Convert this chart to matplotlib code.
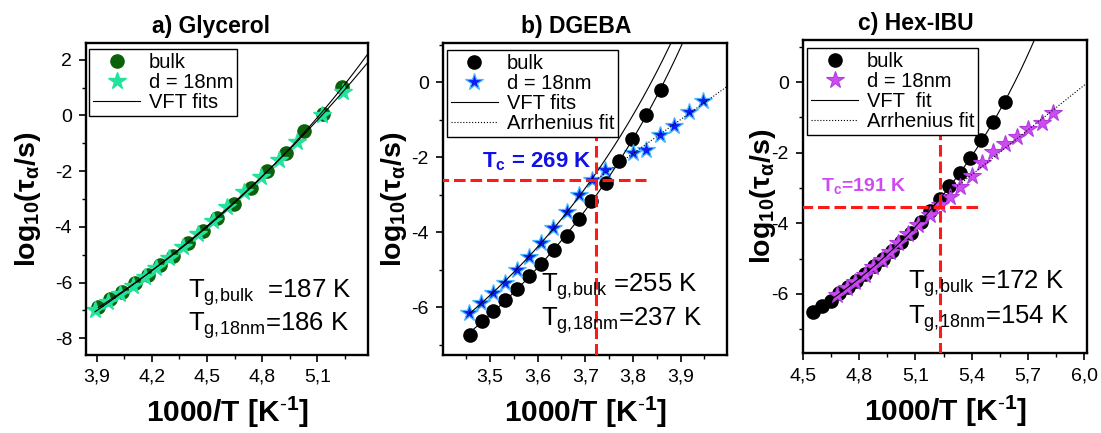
import numpy as np
import matplotlib
matplotlib.use('Agg')
import matplotlib.pyplot as plt
from matplotlib.ticker import FixedLocator, MultipleLocator

plt.rcParams['font.family'] = ['Liberation Sans', 'DejaVu Sans']
plt.rcParams['mathtext.fontset'] = 'custom'
plt.rcParams['mathtext.rm'] = 'Liberation Sans'
plt.rcParams['mathtext.it'] = 'Liberation Sans:italic'
plt.rcParams['mathtext.bf'] = 'Liberation Sans:bold'

# a) glycerol
gly_bulk_x = [3.909, 3.972, 4.040, 4.107, 4.179, 4.242, 4.314, 4.395, 4.476, 4.557,
              4.648, 4.738, 4.828, 4.927, 5.026, 5.129, 5.233]
gly_bulk_y = [-6.89, -6.59, -6.32, -6.02, -5.72, -5.36, -5.03, -4.58, -4.13, -3.67,
              -3.16, -2.59, -2.00, -1.33, -0.56, 0.04, 1.02]
gly_film_x = [3.891, 3.963, 4.026, 4.095, 4.161, 4.224, 4.296, 4.368, 4.449, 4.530,
              4.611, 4.702, 4.792, 4.891, 4.990, 5.125, 5.242]
gly_film_y = [-6.98, -6.71, -6.41, -6.11, -5.81, -5.48, -5.12, -4.73, -4.25, -3.77,
              -3.29, -2.75, -2.20, -1.60, -0.97, 0.02, 0.86]

# b) DGEBA
dgeba_bulk_x = [3.458, 3.483, 3.507, 3.531, 3.556, 3.582, 3.607, 3.635, 3.662, 3.687,
                3.713, 3.743, 3.771, 3.799, 3.827, 3.858]
dgeba_bulk_y = [-6.73, -6.36, -6.10, -5.80, -5.50, -5.17, -4.84, -4.48, -4.09, -3.64,
                -3.16, -2.67, -2.10, -1.50, -0.86, -0.21]
dgeba_film_x = [3.457, 3.481, 3.506, 3.531, 3.556, 3.582, 3.608, 3.633, 3.661, 3.687,
                3.714, 3.742, 3.800, 3.827, 3.856, 3.886, 3.917, 3.947]
dgeba_film_y = [-6.15, -5.88, -5.62, -5.34, -4.99, -4.66, -4.27, -3.88, -3.46, -3.01,
                -2.61, -2.33, -1.88, -1.81, -1.39, -1.17, -0.80, -0.50]

# c) Hex-IBU
hex_bulk_x = [4.557, 4.601, 4.649, 4.695, 4.739, 4.785, 4.831, 4.878, 4.926, 4.975,
              5.025, 5.076, 5.128, 5.178, 5.231, 5.281, 5.336, 5.391, 5.450, 5.513, 5.579]
hex_bulk_y = [-6.51, -6.33, -6.19, -5.98, -5.80, -5.62, -5.43, -5.22, -5.00, -4.77,
              -4.52, -4.26, -3.97, -3.66, -3.30, -2.94, -2.58, -2.14, -1.65, -1.13, -0.56]
hex_film_x = [4.681, 4.734, 4.779, 4.832, 4.876, 4.921, 4.965, 5.009, 5.063, 5.116,
              5.178, 5.231, 5.285, 5.338, 5.400, 5.454, 5.515, 5.578, 5.640, 5.702,
              5.773, 5.835]
hex_film_y = [-6.03, -5.84, -5.66, -5.47, -5.25, -5.04, -4.81, -4.57, -4.29, -4.05,
              -3.77, -3.48, -3.25, -2.97, -2.65, -2.30, -1.97, -1.74, -1.55, -1.34,
              -1.15, -0.89]

# crossover points (1000/T, log tau)
dgeba_tc = (3.722, -2.61)
hex_tc = (5.231, -3.53)

gly_xticks = [3.9, 4.2, 4.5, 4.8, 5.1]
gly_xlabels = ['3,9', '4,2', '4,5', '4,8', '5,1']
dgeba_xticks = [3.5, 3.6, 3.7, 3.8, 3.9]
dgeba_xlabels = ['3,5', '3,6', '3,7', '3,8', '3,9']
hex_xticks = [4.5, 4.8, 5.1, 5.4, 5.7, 6.0]
hex_xlabels = ['4,5', '4,8', '5,1', '5,4', '5,7', '6,0']

TG_SIZE = 18.5
LEG_SIZE = 14.5


def vft_fit(x, y):
    # log tau = A + B/(T - T0), grid over T0 and linear least squares for A, B
    T = 1000.0 / np.asarray(x)
    y = np.asarray(y)
    best = None
    for T0 in np.arange(0.0, T.min() - 3.0, 0.2):
        M = np.column_stack([np.ones_like(T), 1.0 / (T - T0)])
        coef = np.linalg.lstsq(M, y, rcond=None)[0]
        r = np.sum((M @ coef - y) ** 2)
        if best is None or r < best[0]:
            best = (r, coef[0], coef[1], T0)
    return best[1:]


def vft_curve(params, x0, x1):
    A, B, T0 = params
    xs = np.linspace(x0, x1, 500)
    return xs, A + B / (1000.0 / xs - T0)


def style_axes(ax, xlim, ylim, xticks, xlabels, yticks, xminor, title, title_x):
    ax.set_xlim(*xlim)
    ax.set_ylim(*ylim)
    ax.xaxis.set_major_locator(FixedLocator(xticks))
    ax.set_xticklabels(xlabels)
    ax.xaxis.set_minor_locator(MultipleLocator(xminor))
    ax.yaxis.set_major_locator(FixedLocator(yticks))
    ax.set_yticklabels([str(v) for v in yticks])
    ax.yaxis.set_minor_locator(MultipleLocator(1))
    ax.tick_params(which='major', direction='out', length=5, width=1.2, labelsize=14, pad=5)
    ax.tick_params(which='minor', direction='out', length=3, width=1.0)
    for s in ax.spines.values():
        s.set_linewidth(1.7)
    ax.set_xlabel(r'$\mathbf{1000/T\ [K^{\text{-}1}]}$', fontsize=21.5)
    ax.xaxis.set_label_coords(0.5, -0.128)
    ax.set_ylabel(r'$\mathbf{log_{10}(\tau_{\alpha}/s)}$', fontsize=20.5)
    ax.text(title_x, 1.052, title, transform=ax.transAxes, ha='center', va='center',
            fontsize=16.5, fontweight='bold')


def add_legend(ax, anchor):
    ax.legend(loc='upper left', bbox_to_anchor=anchor, borderaxespad=0, fontsize=LEG_SIZE,
              fancybox=False, edgecolor='black', framealpha=1, handlelength=2.3,
              labelspacing=0.05, borderpad=0.2, handletextpad=0.45)


fig = plt.figure(figsize=(11.01, 4.33), dpi=100)
ax_a = fig.add_axes([0.0781, 0.180, 0.2561, 0.7206])
ax_b = fig.add_axes([0.4021, 0.180, 0.2585, 0.7206])
ax_c = fig.add_axes([0.7290, 0.184, 0.2585, 0.7236])

# ---- a) Glycerol ----
ax = ax_a
ax.plot(gly_bulk_x, gly_bulk_y, 'o', color='#0b620b', ms=9.5, zorder=2, label='bulk')
ax.plot(gly_film_x, gly_film_y, '*', color='#21e39b', ms=13, zorder=2, label='d = 18nm')
xs, ys = vft_curve(vft_fit(gly_bulk_x, gly_bulk_y), gly_bulk_x[0], 5.38)
ax.plot(xs, ys, '-', color='black', lw=0.8, zorder=3, label='VFT fits')
xs, ys = vft_curve(vft_fit(gly_film_x, gly_film_y), gly_film_x[0], 5.38)
ax.plot(xs, ys, '-', color='black', lw=0.8, zorder=3)
style_axes(ax, (3.842, 5.375), (-8.6, 2.6), gly_xticks, gly_xlabels,
           [-8, -6, -4, -2, 0, 2], 0.15, 'a) Glycerol', 0.443)
ax.yaxis.set_label_coords(-0.152, 0.5)
add_legend(ax, (0.012, 0.98))
ax.text(4.395, -6.53, r'T$_\mathrm{g,\!bulk}$  =187 K', fontsize=TG_SIZE)
ax.text(4.395, -7.73, r'T$_\mathrm{g,\!18nm}$=186 K', fontsize=TG_SIZE)

# ---- b) DGEBA ----
ax = ax_b
fx = np.array(dgeba_film_x)
fy = np.array(dgeba_film_y)
low = fx < dgeba_tc[0]
ax.plot(dgeba_bulk_x, dgeba_bulk_y, 'o', color='black', ms=9.5, zorder=2, label='bulk')
ax.plot(dgeba_film_x, dgeba_film_y, '*', mfc='#0a1ef5', mec='#48b8ff', mew=0.9, ms=13,
        zorder=2, label='d = 18nm')
xs, ys = vft_curve(vft_fit(dgeba_bulk_x, dgeba_bulk_y), dgeba_bulk_x[0], 3.999)
ax.plot(xs, ys, '-', color='black', lw=0.8, zorder=3, label='VFT fits')
xs, ys = vft_curve(vft_fit(fx[low], fy[low]), fx[0], 3.999)
ax.plot(xs, ys, '-', color='black', lw=0.8, zorder=3)
k, b0 = np.polyfit(fx[~low], fy[~low], 1)
xa = np.array([dgeba_tc[0], 3.999])
ax.plot(xa, k * xa + b0, ':', color='black', lw=0.8, zorder=3, label='Arrhenius fit')
ax.plot([dgeba_tc[0], dgeba_tc[0]], [-1.23, -7.5], color='#ff1a1a', lw=2.2,
        dashes=(3.8, 1.6), zorder=4)
ax.plot([3.39, 3.828], [dgeba_tc[1], dgeba_tc[1]], color='#ff1a1a', lw=2.2,
        dashes=(3.8, 1.6), zorder=4)
style_axes(ax, (3.401, 3.998), (-7.27, 1.05), dgeba_xticks, dgeba_xlabels,
           [-6, -4, -2, 0], 0.05, 'b) DGEBA', 0.468)
ax.yaxis.set_label_coords(-0.117, 0.5)
add_legend(ax, (0.016, 0.979))
ax.text(3.483, -2.12, r'$\mathbf{T_c}$ = 269 K', color='#1010e8', fontsize=16,
        fontweight='bold', va='center', zorder=5)
ax.text(3.608, -5.59, r'T$_\mathrm{g,\!bulk}$ =255 K', fontsize=TG_SIZE, zorder=5)
ax.text(3.608, -6.48, r'T$_\mathrm{g,\!18nm}$=237 K', fontsize=TG_SIZE, zorder=5)

# ---- c) Hex-IBU ----
ax = ax_c
hx = np.array(hex_film_x)
hy = np.array(hex_film_y)
ax.plot(hex_bulk_x, hex_bulk_y, 'o', color='black', ms=9.5, zorder=2, label='bulk')
ax.plot(hex_film_x, hex_film_y, '*', mfc='#cc4cf2', mec='#b23ae0', mew=0.8, ms=13,
        zorder=2, label='d = 18nm')
xs, ys = vft_curve(vft_fit(hex_bulk_x, hex_bulk_y), hex_bulk_x[0], 6.0)
ax.plot(xs, ys, '-', color='black', lw=0.8, zorder=3, label='VFT  fit')
high = hx > hex_tc[0]
k, b0 = np.polyfit(hx[high], hy[high], 1)
xa = np.array([5.20, 6.015])
ax.plot(xa, k * xa + b0, ':', color='black', lw=0.8, zorder=3, label='Arrhenius fit')
ax.plot([hex_tc[0], hex_tc[0]], [-1.31, -8], color='#ff1a1a', lw=2.2,
        dashes=(3.8, 1.6), zorder=4)
ax.plot([4.49, 5.445], [hex_tc[1], hex_tc[1]], color='#ff1a1a', lw=2.2,
        dashes=(3.8, 1.6), zorder=4)
style_axes(ax, (4.5, 6.015), (-7.68, 1.19), hex_xticks, hex_xlabels,
           [-6, -4, -2, 0], 0.15, 'c) Hex-IBU', 0.398)
ax.yaxis.set_label_coords(-0.086, 0.5)
add_legend(ax, (0.017, 0.975))
ax.text(4.598, -2.94, r'$\mathbf{T_c}$=191 K', color='#cc4cf2', fontsize=14,
        fontweight='bold', va='center', zorder=5)
ax.text(5.063, -5.84, r'T$_\mathrm{g,\!bulk}$ =172 K', fontsize=TG_SIZE, zorder=5)
ax.text(5.063, -6.84, r'T$_\mathrm{g,\!18nm}$=154 K', fontsize=TG_SIZE, zorder=5)

fig.savefig('out.png', dpi=100)
